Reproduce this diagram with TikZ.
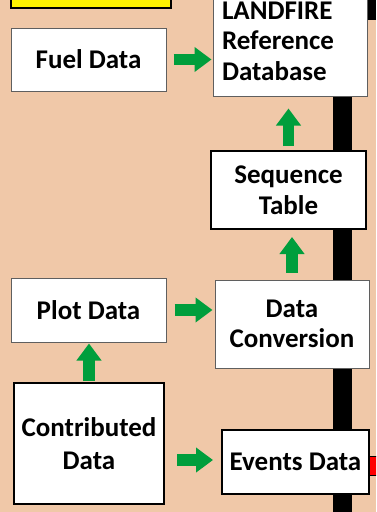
\documentclass[tikz,border=0pt]{standalone}
\usepackage{fontspec}
\setmainfont{Carlito}
\usetikzlibrary{arrows.meta}

\definecolor{peach}{RGB}{240,200,168}
\definecolor{flowgreen}{RGB}{0,158,60}
\definecolor{edgegrey}{RGB}{95,95,95}

\begin{document}
\begin{tikzpicture}[x=1pt, y=-1pt, font=\bfseries\fontsize{27}{30.5}\selectfont]
    \tikzset{ box/.style={draw=edgegrey, line width=1pt, fill=white, align=center, inner sep=0pt},
              heavybox/.style={box, draw=black, line width=2pt},
              flow/.style={draw=flowgreen, line width=11.5pt, -{Triangle[width=24pt, length=17pt]}} }
    \useasboundingbox (0,0) rectangle (376,512);
    \clip (0,0) rectangle (376,512);
    \fill[peach] (0,0) rectangle (376,512);

    \fill[black] (333,0) rectangle (352,512);
    \fill[black] (352,0) rectangle (376,20);
    \draw[fill=red, line width=1pt] (369,456) rectangle (390,475);

    \node[heavybox, fill=yellow, minimum width=160pt, minimum height=48pt] (title) at (91,-16) {};

    \node[box, minimum width=155pt, minimum height=63pt] (fuel) at (88.5,59.5) {Fuel Data};
    \node[box, align=left, text width=136pt, inner xsep=9pt, minimum height=110pt] (landfire) at (290,41)
      {LANDFIRE\\Reference\\Database};
    \node[heavybox, minimum width=155pt, minimum height=78pt] (seq) at (288.5,190) {Sequence\\Table};
    \node[box, minimum width=154pt, minimum height=88pt] (conv) at (292,324) {Data\\Conversion};
    \node[box, minimum width=155pt, minimum height=64pt] (plot) at (88.5,310) {Plot Data};
    \node[heavybox, minimum width=150pt, minimum height=121pt] (contrib) at (89,443.5) {Contributed\\[2pt]Data};
    \node[heavybox, minimum width=147pt, minimum height=64pt] (events) at (295.5,462) {Events Data};

    \draw[flow, shorten <=7pt, shorten >=1pt] (fuel.east) -- (fuel.east -| landfire.west);
    \draw[flow, shorten <=4pt, shorten >=12pt] (seq.north) -- (seq.north |- landfire.south);
    \draw[flow, shorten <=7pt, shorten >=7pt] (conv.north) -- (conv.north |- seq.south);
    \draw[flow, shorten <=8pt, shorten >=2pt] (plot.east) -- (plot.east -| conv.west);
    \draw[flow, shorten <=1pt, shorten >=1pt] (contrib.north) -- (contrib.north |- plot.south);
    \draw[flow, shorten <=12pt, shorten >=8pt] (contrib.east |- 0,460) -- (events.west |- 0,460);
\end{tikzpicture}
\end{document}
